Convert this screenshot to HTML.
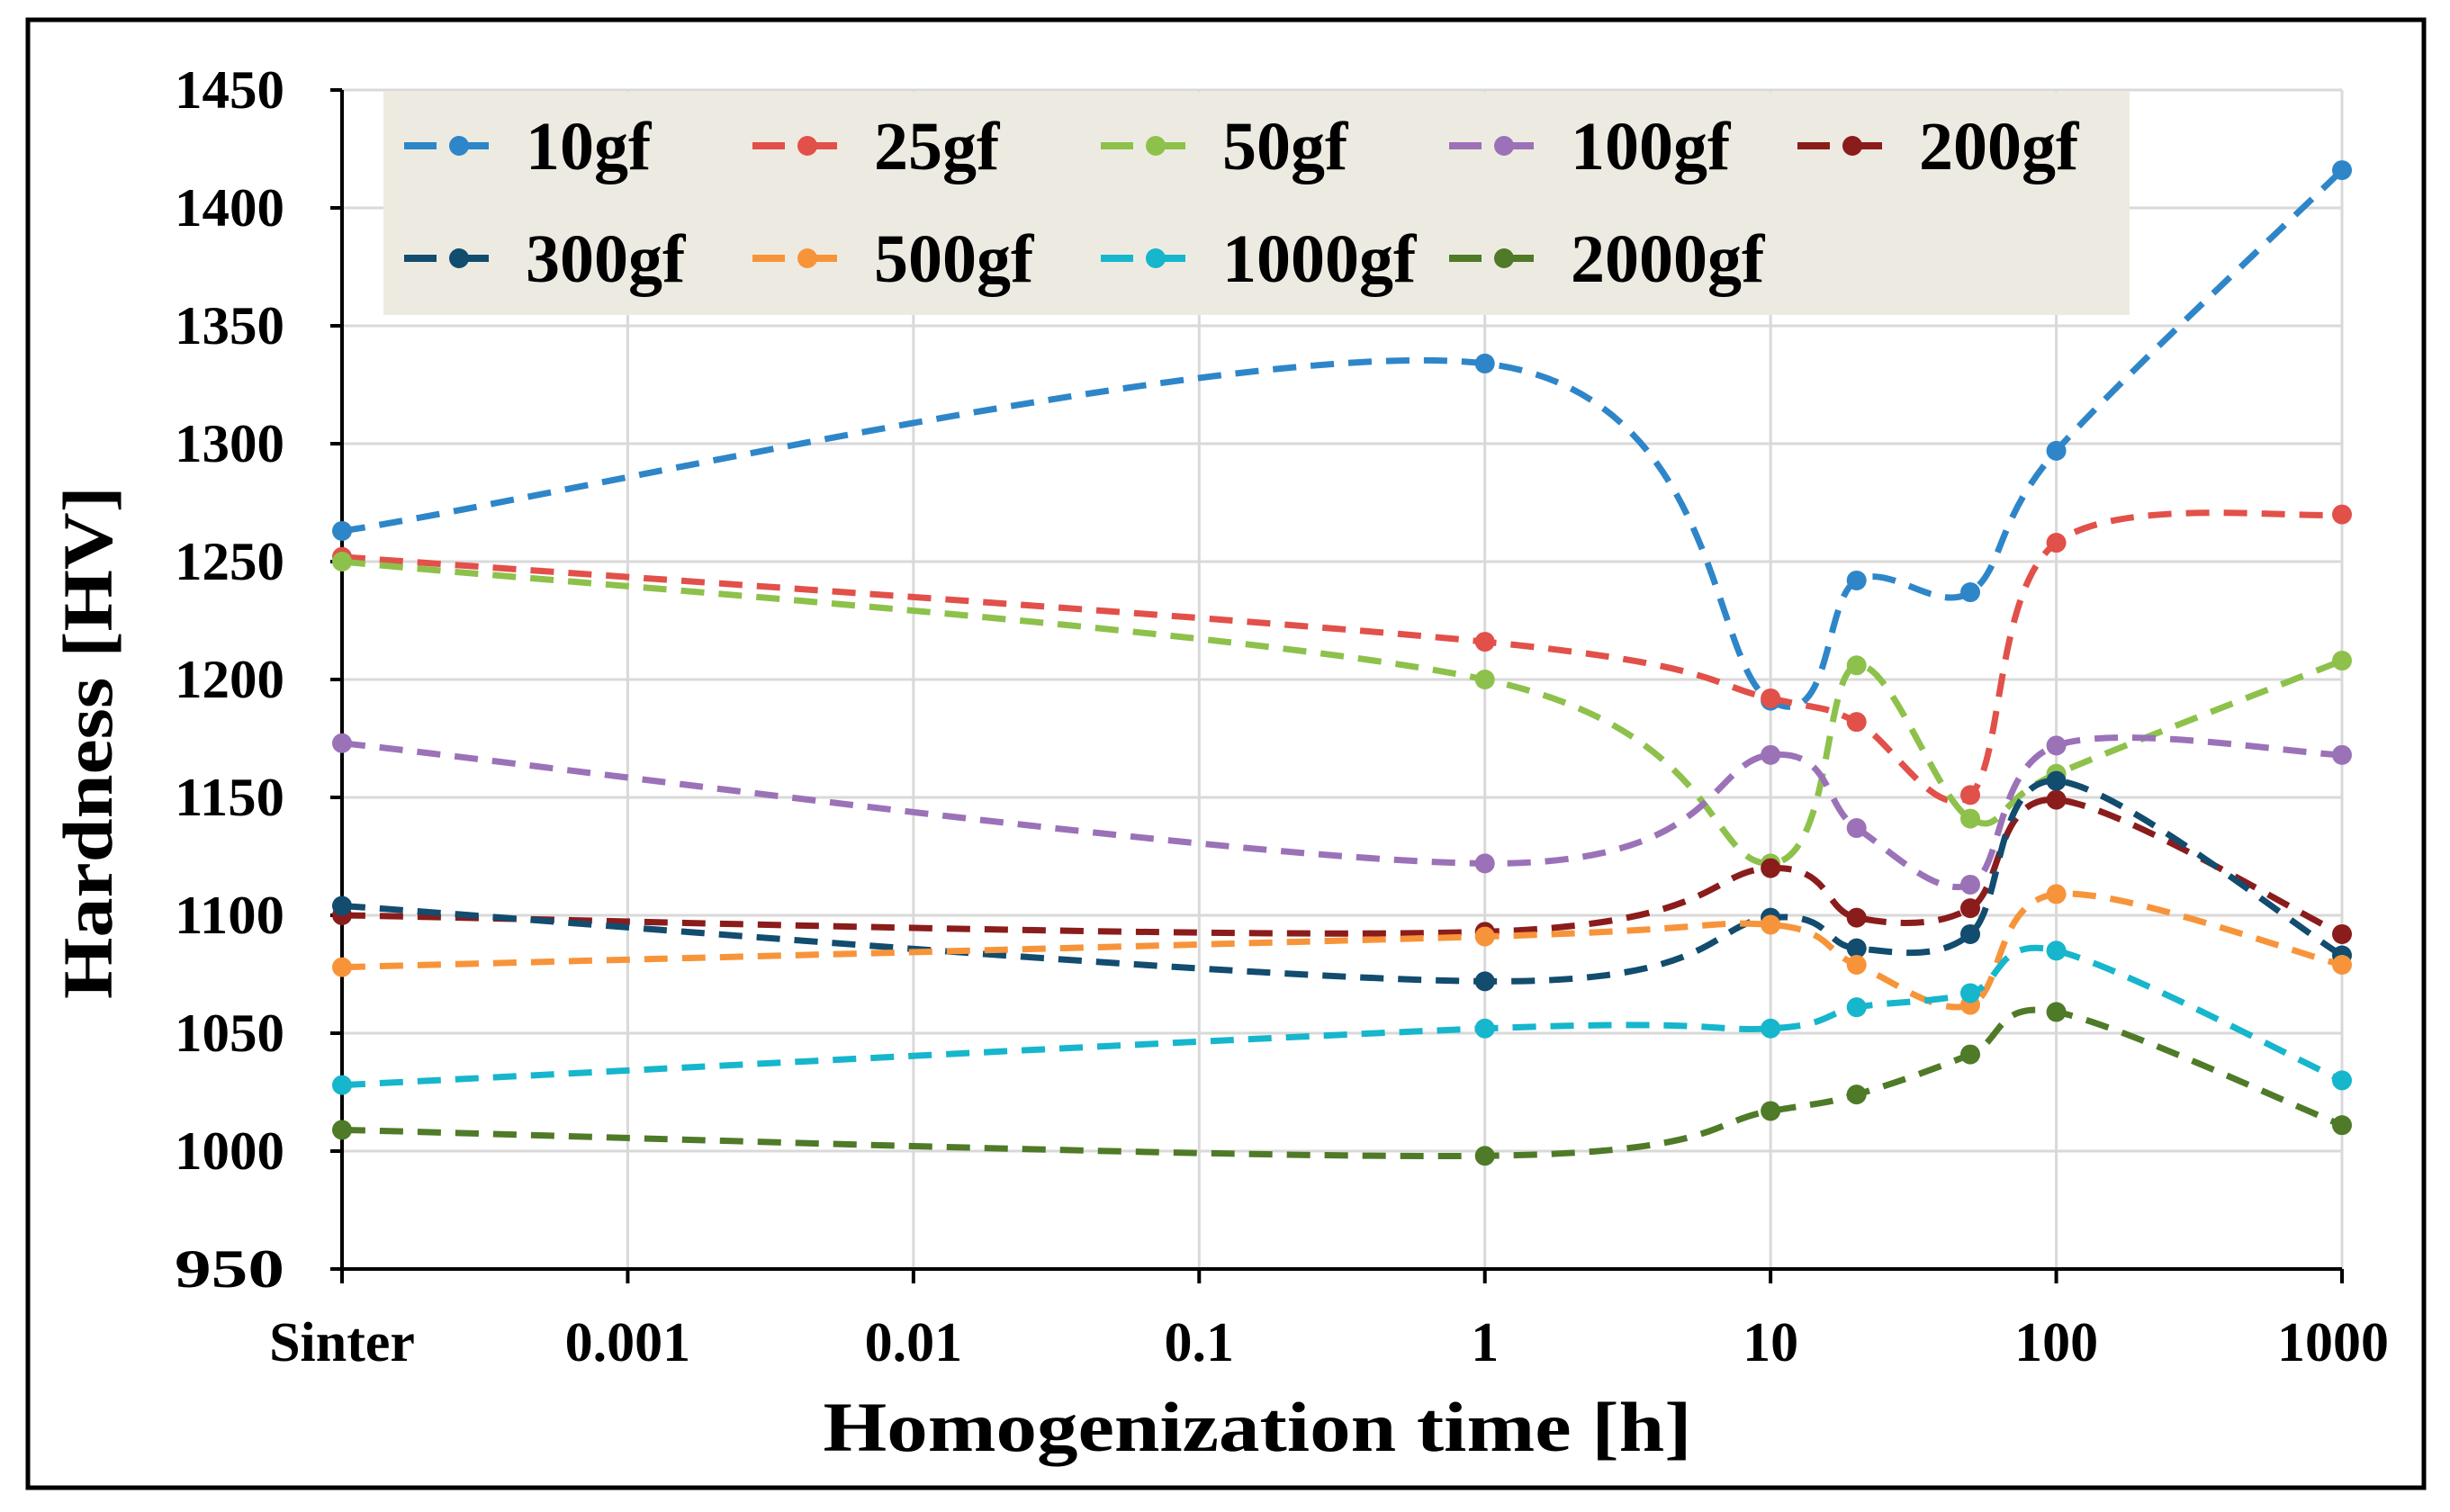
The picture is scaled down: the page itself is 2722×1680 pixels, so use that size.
<!DOCTYPE html>
<html><head><meta charset="utf-8"><style>
html,body{margin:0;padding:0;background:#fff}
svg{display:block}
text{font-family:"Liberation Serif",serif;font-weight:bold;fill:#000}
</style></head><body>
<svg id="chart" width="2722" height="1680" viewBox="0 0 2722 1680" xmlns="http://www.w3.org/2000/svg">
<rect x="31" y="22" width="2662" height="1631" fill="#fff" stroke="#000" stroke-width="5"/>
<g id="grid"></g>
<g id="axes"></g>
<g id="series"></g>
<g id="legend"></g>
<text x="0" y="0" transform="translate(124,825) rotate(-90)" text-anchor="middle" font-size="78" textLength="570" lengthAdjust="spacingAndGlyphs">Hardness [HV]</text>
<text x="1397" y="1612" text-anchor="middle" font-size="78" textLength="965" lengthAdjust="spacingAndGlyphs">Homogenization time [h]</text>
</svg>
<script>
const xCats = ["Sinter","0.001","0.01","0.1","1","10","100","1000"];
const xTimes = [-4, 0, 1, 1.30103, 1.69897, 2, 3];
const yTicks = [950,1000,1050,1100,1150,1200,1250,1300,1350,1400,1450];
const names = ["10gf","25gf","50gf","100gf","200gf","300gf","500gf","1000gf","2000gf"];
const colors = ["#2E86C9","#E2504A","#8DC14B","#9B72B8","#8B1C1C","#124C6E","#F7943A","#16B6CC","#4F7A28"];
const s10 = [1263,1334,1191,1242,1237,1297,1416];
const s25 = [1252,1216,1192,1182,1151,1258,1270];
const s50 = [1250,1200,1122,1206,1141,1160,1208];
const s100 = [1173,1122,1168,1137,1113,1172,1168];
const s200 = [1100,1093,1120,1099,1103,1149,1092];
const s300 = [1104,1072,1099,1086,1092,1157,1083];
const s500 = [1078,1091,1096,1079,1062,1109,1079];
const s1000 = [1028,1052,1052,1061,1067,1085,1030];
const s2000 = [1009,998,1017,1024,1041,1059,1011];
const seriesVals = [s10,s25,s50,s100,s200,s300,s500,s1000,s2000];

const NS="http://www.w3.org/2000/svg";
const X0=380,X1=2602,Y0=1410,Y1=100;
function xPos(v){ return X0 + (v - (-4))/7*(X1-X0); }
function xCatPos(i){ return X0 + i/7*(X1-X0); }
function yPos(v){ return Y0 - (v-950)/500*(Y0-Y1); }
function mk(tag,attrs,parent){const e=document.createElementNS(NS,tag);for(const k in attrs)e.setAttribute(k,attrs[k]);parent.appendChild(e);return e;}

const grid=document.getElementById('grid'), axes=document.getElementById('axes'), ser=document.getElementById('series'), leg=document.getElementById('legend');
yTicks.forEach(t=>{
  const y=yPos(t);
  if(t>950){const l=mk('line',{x1:X0,x2:X1,y1:y,y2:y,stroke:'#d9d9d9','stroke-width':3},grid);
  
  }
  const tk=mk('line',{x1:X0-13,x2:X0,y1:y,y2:y,stroke:'#000','stroke-width':4},axes);
  
  
  const tx=mk('text',{x:316,y:y+20,'text-anchor':'end','font-size':60,textLength:122,lengthAdjust:'spacingAndGlyphs'},axes);
  tx.textContent=t;
  
  
});
xCats.forEach((c,i)=>{
  const x=xCatPos(i);
  if(i>0){const l=mk('line',{x1:x,x2:x,y1:Y1,y2:Y0,stroke:'#d9d9d9','stroke-width':3},grid);
  
  }
  const tk=mk('line',{x1:x,x2:x,y1:Y0,y2:Y0+16,stroke:'#000','stroke-width':4},axes);
  
  
  const tx=mk('text',{x:x+(i==7?-10:0),y:1512,'text-anchor':'middle','font-size':62},axes);
  tx.textContent=c;
  
  
});
const ax=mk('path',{d:`M${X0} ${Y1} L${X0} ${Y0} L${X1} ${Y0}`,fill:'none',stroke:'#000','stroke-width':4},axes);



function smooth(pts){
  let d=`M${pts[0][0]} ${pts[0][1]}`;
  for(let i=0;i<pts.length-1;i++){
    const p0=pts[Math.max(0,i-1)],p1=pts[i],p2=pts[i+1],p3=pts[Math.min(pts.length-1,i+2)];
    const t=1/6;
    const c1=[p1[0]+(p2[0]-p0[0])*t,p1[1]+(p2[1]-p0[1])*t];
    const c2=[p2[0]-(p3[0]-p1[0])*t,p2[1]-(p3[1]-p1[1])*t];
    d+=` C${c1[0]} ${c1[1]} ${c2[0]} ${c2[1]} ${p2[0]} ${p2[1]}`;
  }
  return d;
}
seriesVals.forEach((vals,si)=>{
  const g=mk('g',{},ser);
  
  
  const pts=vals.map((v,i)=>[xPos(xTimes[i]),yPos(v)]);
  const p=mk('path',{d:smooth(pts),fill:'none',stroke:colors[si],'stroke-width':7,'stroke-dasharray':'26 16'},g);
  
  
  pts.forEach(q=>{
    const c=mk('circle',{cx:q[0],cy:q[1],r:11,fill:colors[si]},g);
    
    
  });
});
const lb=mk('rect',{x:426,y:102,width:1940,height:248,fill:'#EDEBE1'},leg);


names.forEach((n,i)=>{
  const col=i<5?i:i-5, row=i<5?0:1;
  const x=449+col*387, y=row?287:162;
  const g=mk('g',{},leg);
  
  
  mk('line',{x1:x,x2:x+101,y1:y,y2:y,stroke:colors[i],'stroke-width':8,'stroke-dasharray':'36 22'},g);
  mk('circle',{cx:x+61,cy:y,r:11,fill:colors[i]},g);
  const t=mk('text',{x:x+135,y:y+26,'font-size':76},g);
  t.textContent=n;
  
  
});
</script>
</body></html>
